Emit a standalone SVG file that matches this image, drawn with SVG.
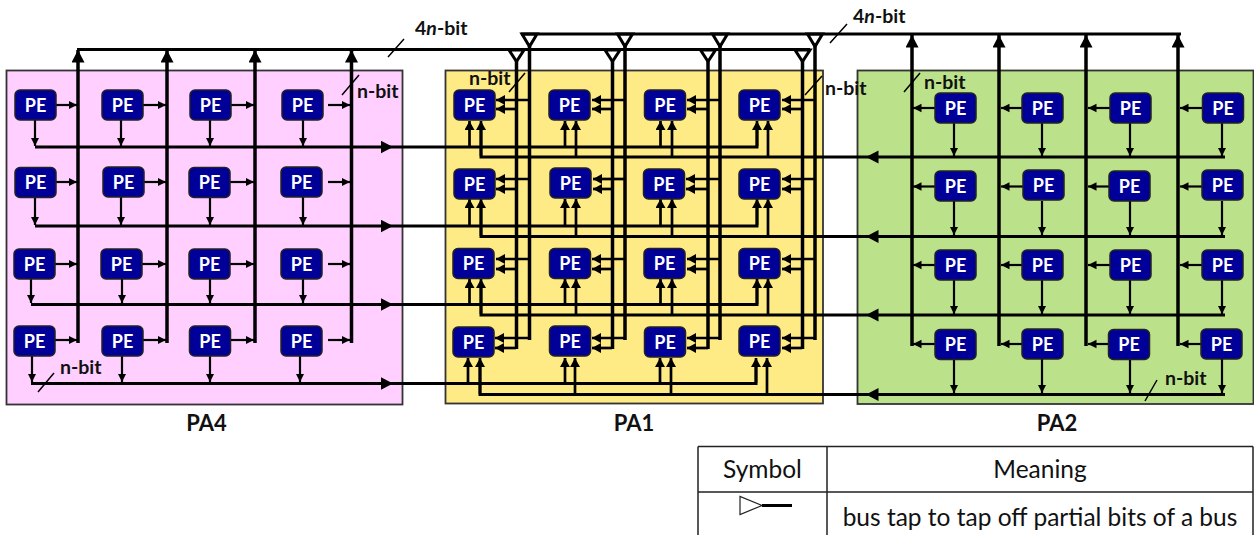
<svg xmlns="http://www.w3.org/2000/svg" width="1254" height="535" viewBox="0 0 1254 535">
<style>
text{font-family:"Lato","Liberation Sans",sans-serif;fill:#111}
.lb{font-weight:700;font-size:19.5px}
.pa{font-weight:700;font-size:22px;text-anchor:middle}
.pet{font-weight:700;font-size:18px;fill:#fff;text-anchor:middle}
.pe{fill:#000099;stroke:#222;stroke-width:1.5;width:41px;height:30px;rx:5px;ry:5px}
.panel{stroke:#333;stroke-width:1.8}
.t{stroke:#000;stroke-width:2.2;fill:none;marker-end:url(#sa)}
.u{stroke:#000;stroke-width:2.7;fill:none;marker-end:url(#ua)}
.b{stroke:#000;stroke-width:3;fill:none}
.v{stroke:#000;stroke-width:3.5;fill:none}
.ba{marker-end:url(#ba)}
.slash{stroke:#000;stroke-width:1.5;fill:none}
.tap{stroke:#000;stroke-width:3;fill:none}
.tbl{stroke:#222;stroke-width:1.5;fill:none}
.tt{font-size:24.5px;text-anchor:middle}
</style>
<defs>
<marker id="sa" markerUnits="userSpaceOnUse" markerWidth="10" markerHeight="10" refX="8.500" refY="4.500" orient="auto"><path d="M0 0.250L8.500 4.500L0 8.750z" fill="#000"/></marker>
<marker id="ua" markerUnits="userSpaceOnUse" markerWidth="11" markerHeight="11" refX="9" refY="5" orient="auto"><path d="M0 0L9 5L0 10z" fill="#000"/></marker>
<marker id="ba" markerUnits="userSpaceOnUse" markerWidth="14" markerHeight="14" refX="12.500" refY="6.500" orient="auto"><path d="M0 0L12.500 6.500L0 13z" fill="#000"/></marker>
</defs>
<g id="panels">
<rect id="pa4-panel" class="panel" x="6.500" y="70.500" width="396" height="334" fill="#FFD0FF"/>
<rect id="pa1-panel" class="panel" x="445.500" y="70.500" width="377.500" height="333" fill="#FFEB85"/>
<rect id="pa2-panel" class="panel" x="857.500" y="70.500" width="396" height="333.500" fill="#BBE28A"/>
</g>
<g id="connectors">
<path class="b" d="M77 49.500H810"/>
<path class="b" d="M521 34H1181"/>
<path class="v ba" d="M78 343V50"/><path class="v ba" d="M167 343V50"/><path class="v ba" d="M255 343V50"/><path class="v ba" d="M351.500 343V50"/>
<path class="v ba" d="M912 346V35"/><path class="v ba" d="M999 346V35"/><path class="v ba" d="M1086 346V35"/><path class="v ba" d="M1178 346V35"/>
<path class="tap" d="M509 50H524L516.500 61.500zM605 50H620L612.500 61.500zM700.500 50H715.500L708 61.500zM795 50H810L802.500 61.500z"/>
<path class="tap" d="M522 34H537L529.500 46.500zM617.500 34H632.500L625 46.500zM712.500 34H727.500L720 46.500zM807.500 34H822.500L815 46.500z"/>
<path class="v" d="M516.500 61V349M612.500 61V349M708 61V349M802.500 61V349"/>
<path class="v" d="M529.500 46V340M625 46V340M720 46V340M815 46V340"/>
<path class="b ba" d="M35 147H393"/><path class="b ba" d="M35 226H393"/><path class="b ba" d="M31 304.500H393"/><path class="b ba" d="M31 383.500H393"/>
<path class="b" d="M393 147H757V128"/><path class="b" d="M393 226H757V206"/><path class="b" d="M393 304.500H757V286"/><path class="b" d="M393 383.500H756V364"/>
<path class="b ba" d="M1225 157H866"/><path class="b ba" d="M1225 236.500H866"/><path class="b ba" d="M1225 315H866"/><path class="b ba" d="M1225 394.500H866"/>
<path class="b" d="M866 157H481V128"/><path class="b" d="M866 236.500H481V206"/><path class="b" d="M866 315H481V286"/><path class="b" d="M866 394.500H480V364"/>
<path class="t" d="M56 105H77"/><path class="t" d="M142 105H166"/><path class="t" d="M231 105H254"/><path class="t" d="M328 105H350"/>
<path class="t" d="M56 182H77"/><path class="t" d="M143 182H166"/><path class="t" d="M230 182H254"/><path class="t" d="M328 182H350"/>
<path class="t" d="M55 264H77"/><path class="t" d="M142 264H166"/><path class="t" d="M230 264H254"/><path class="t" d="M328 264H350"/>
<path class="t" d="M55 340H77"/><path class="t" d="M143 340H166"/><path class="t" d="M231 340H254"/><path class="t" d="M328 340H350"/>
<path class="t" d="M35 120V146"/><path class="t" d="M121 120V146"/><path class="t" d="M210 120V146"/><path class="t" d="M303 120V146"/>
<path class="t" d="M35 197V225"/><path class="t" d="M121 197V225"/><path class="t" d="M210 197V225"/><path class="t" d="M303 197V225"/>
<path class="t" d="M31 279V303"/><path class="t" d="M122 279V303"/><path class="t" d="M210 279V303"/><path class="t" d="M303 279V303"/>
<path class="t" d="M32 356V382"/><path class="t" d="M122 356V382"/><path class="t" d="M210 356V382"/><path class="t" d="M300 356V382"/>
<path class="t" d="M935 108H913"/><path class="t" d="M1022 108H1001"/><path class="t" d="M1110 108H1088"/><path class="t" d="M1202 108H1180"/>
<path class="t" d="M935 186.500H913"/><path class="t" d="M1023 186.500H1001"/><path class="t" d="M1109 186.500H1088"/><path class="t" d="M1202 186.500H1180"/>
<path class="t" d="M935 265H913"/><path class="t" d="M1022 265H1001"/><path class="t" d="M1110 265H1088"/><path class="t" d="M1202 265H1180"/>
<path class="t" d="M935 344H913"/><path class="t" d="M1022 344H1001"/><path class="t" d="M1108 344H1088"/><path class="t" d="M1201 344H1180"/>
<path class="t" d="M954 123V156"/><path class="t" d="M1042 123V156"/><path class="t" d="M1130 123V156"/><path class="t" d="M1222 123V156"/>
<path class="t" d="M954 201V235"/><path class="t" d="M1042 201V235"/><path class="t" d="M1130 201V235"/><path class="t" d="M1222 201V235"/>
<path class="t" d="M954 280V314"/><path class="t" d="M1042 280V314"/><path class="t" d="M1130 280V314"/><path class="t" d="M1222 280V314"/>
<path class="t" d="M954 359V393"/><path class="t" d="M1042 359V393"/><path class="t" d="M1130 359V393"/><path class="t" d="M1222 359V393"/>
<path class="u" d="M529 100H496"/><path class="u" d="M516 109H496"/><path class="u" d="M625 100H592"/><path class="u" d="M612 109H592"/><path class="u" d="M720 100H687"/><path class="u" d="M708 109H687"/><path class="u" d="M815 100H782"/><path class="u" d="M802 109H782"/>
<path class="u" d="M529 179H496"/><path class="u" d="M516 189H496"/><path class="u" d="M625 179H593"/><path class="u" d="M612 189H593"/><path class="u" d="M720 179H686"/><path class="u" d="M708 189H686"/><path class="u" d="M815 179H782"/><path class="u" d="M802 189H782"/>
<path class="u" d="M529 259H496"/><path class="u" d="M516 269H496"/><path class="u" d="M625 259H592"/><path class="u" d="M612 269H592"/><path class="u" d="M720 259H687"/><path class="u" d="M708 269H687"/><path class="u" d="M815 259H782"/><path class="u" d="M802 269H782"/>
<path class="u" d="M529 338H495"/><path class="u" d="M516 348H495"/><path class="u" d="M625 338H592"/><path class="u" d="M612 348H592"/><path class="u" d="M720 338H687"/><path class="u" d="M708 348H687"/><path class="u" d="M815 338H782"/><path class="u" d="M802 348H782"/>
<path class="u" d="M469.500 146V121"/><path class="u" d="M481 156V121"/><path class="u" d="M565 146V121"/><path class="u" d="M576 156V121"/><path class="u" d="M660.500 146V121"/><path class="u" d="M672 156V121"/><path class="u" d="M757 146V121"/><path class="u" d="M768 156V121"/>
<path class="u" d="M469.500 225V199"/><path class="u" d="M481 236V199"/><path class="u" d="M565 225V199"/><path class="u" d="M576 236V199"/><path class="u" d="M660.500 225V199"/><path class="u" d="M672 236V199"/><path class="u" d="M757 225V199"/><path class="u" d="M768 236V199"/>
<path class="u" d="M469.500 304V279"/><path class="u" d="M481 314V279"/><path class="u" d="M565 304V279"/><path class="u" d="M576 314V279"/><path class="u" d="M660.500 304V279"/><path class="u" d="M672 314V279"/><path class="u" d="M757 304V279"/><path class="u" d="M768 314V279"/>
<path class="u" d="M468 383V358"/><path class="u" d="M480 394V358"/><path class="u" d="M565 383V358"/><path class="u" d="M575 394V358"/><path class="u" d="M660 383V358"/><path class="u" d="M671 394V358"/><path class="u" d="M756 383V358"/><path class="u" d="M767 394V358"/>
<path class="slash" d="M388 57L404 39M830 43L847 24M342 95L359 75M509 92L525 73M805 95L822 76M904 92L920 73M38 392L54 373M1145 401L1157 380"/>
</g>
<g id="pa4-nodes">
<g id="pa4-1-1"><rect class="pe" x="15" y="90"/><text class="pet" x="35.500" y="111.500">PE</text></g>
<g id="pa4-1-2"><rect class="pe" x="102" y="90"/><text class="pet" x="122.500" y="111.500">PE</text></g>
<g id="pa4-1-3"><rect class="pe" x="190" y="90"/><text class="pet" x="210.500" y="111.500">PE</text></g>
<g id="pa4-1-4"><rect class="pe" x="282" y="90"/><text class="pet" x="302.500" y="111.500">PE</text></g>
<g id="pa4-2-1"><rect class="pe" x="15" y="167.500"/><text class="pet" x="35.500" y="189">PE</text></g>
<g id="pa4-2-2"><rect class="pe" x="103" y="167"/><text class="pet" x="123.500" y="188.500">PE</text></g>
<g id="pa4-2-3"><rect class="pe" x="189" y="167.500"/><text class="pet" x="209.500" y="189">PE</text></g>
<g id="pa4-2-4"><rect class="pe" x="281" y="167"/><text class="pet" x="301.500" y="188.500">PE</text></g>
<g id="pa4-3-1"><rect class="pe" x="14" y="249"/><text class="pet" x="34.500" y="270.500">PE</text></g>
<g id="pa4-3-2"><rect class="pe" x="101" y="249"/><text class="pet" x="121.500" y="270.500">PE</text></g>
<g id="pa4-3-3"><rect class="pe" x="189" y="249"/><text class="pet" x="209.500" y="270.500">PE</text></g>
<g id="pa4-3-4"><rect class="pe" x="281" y="249"/><text class="pet" x="301.500" y="270.500">PE</text></g>
<g id="pa4-4-1"><rect class="pe" x="14" y="326"/><text class="pet" x="34.500" y="347.500">PE</text></g>
<g id="pa4-4-2"><rect class="pe" x="102" y="326"/><text class="pet" x="122.500" y="347.500">PE</text></g>
<g id="pa4-4-3"><rect class="pe" x="189.500" y="326"/><text class="pet" x="210" y="347.500">PE</text></g>
<g id="pa4-4-4"><rect class="pe" x="281" y="326"/><text class="pet" x="301.500" y="347.500">PE</text></g>
</g>
<g id="pa1-nodes">
<g id="pa1-1-1"><rect class="pe" x="454" y="90"/><text class="pet" x="474.500" y="111.500">PE</text></g>
<g id="pa1-1-2"><rect class="pe" x="549" y="90"/><text class="pet" x="569.500" y="111.500">PE</text></g>
<g id="pa1-1-3"><rect class="pe" x="644.500" y="90"/><text class="pet" x="665" y="111.500">PE</text></g>
<g id="pa1-1-4"><rect class="pe" x="739" y="90"/><text class="pet" x="759.500" y="111.500">PE</text></g>
<g id="pa1-2-1"><rect class="pe" x="454" y="169"/><text class="pet" x="474.500" y="190.500">PE</text></g>
<g id="pa1-2-2"><rect class="pe" x="550" y="168"/><text class="pet" x="570.500" y="189.500">PE</text></g>
<g id="pa1-2-3"><rect class="pe" x="643.500" y="169"/><text class="pet" x="664" y="190.500">PE</text></g>
<g id="pa1-2-4"><rect class="pe" x="739" y="169"/><text class="pet" x="759.500" y="190.500">PE</text></g>
<g id="pa1-3-1"><rect class="pe" x="453" y="248.500"/><text class="pet" x="473.500" y="270">PE</text></g>
<g id="pa1-3-2"><rect class="pe" x="549.500" y="248.500"/><text class="pet" x="570" y="270">PE</text></g>
<g id="pa1-3-3"><rect class="pe" x="644" y="248.500"/><text class="pet" x="664.500" y="270">PE</text></g>
<g id="pa1-3-4"><rect class="pe" x="739" y="248.500"/><text class="pet" x="759.500" y="270">PE</text></g>
<g id="pa1-4-1"><rect class="pe" x="453" y="327"/><text class="pet" x="473.500" y="348.500">PE</text></g>
<g id="pa1-4-2"><rect class="pe" x="549.500" y="326"/><text class="pet" x="570" y="347.500">PE</text></g>
<g id="pa1-4-3"><rect class="pe" x="644.500" y="327"/><text class="pet" x="665" y="348.500">PE</text></g>
<g id="pa1-4-4"><rect class="pe" x="739" y="326"/><text class="pet" x="759.500" y="347.500">PE</text></g>
</g>
<g id="pa2-nodes">
<g id="pa2-1-1"><rect class="pe" x="935" y="93"/><text class="pet" x="955.500" y="114.500">PE</text></g>
<g id="pa2-1-2"><rect class="pe" x="1022" y="93"/><text class="pet" x="1042.500" y="114.500">PE</text></g>
<g id="pa2-1-3"><rect class="pe" x="1110" y="93"/><text class="pet" x="1130.500" y="114.500">PE</text></g>
<g id="pa2-1-4"><rect class="pe" x="1202.500" y="93"/><text class="pet" x="1223" y="114.500">PE</text></g>
<g id="pa2-2-1"><rect class="pe" x="935" y="171"/><text class="pet" x="955.500" y="192.500">PE</text></g>
<g id="pa2-2-2"><rect class="pe" x="1023" y="170"/><text class="pet" x="1043.500" y="191.500">PE</text></g>
<g id="pa2-2-3"><rect class="pe" x="1109" y="171"/><text class="pet" x="1129.500" y="192.500">PE</text></g>
<g id="pa2-2-4"><rect class="pe" x="1202" y="170"/><text class="pet" x="1222.500" y="191.500">PE</text></g>
<g id="pa2-3-1"><rect class="pe" x="935" y="250"/><text class="pet" x="955.500" y="271.500">PE</text></g>
<g id="pa2-3-2"><rect class="pe" x="1022" y="250"/><text class="pet" x="1042.500" y="271.500">PE</text></g>
<g id="pa2-3-3"><rect class="pe" x="1110" y="250"/><text class="pet" x="1130.500" y="271.500">PE</text></g>
<g id="pa2-3-4"><rect class="pe" x="1202" y="250"/><text class="pet" x="1222.500" y="271.500">PE</text></g>
<g id="pa2-4-1"><rect class="pe" x="935" y="329.500"/><text class="pet" x="955.500" y="351">PE</text></g>
<g id="pa2-4-2"><rect class="pe" x="1022" y="329"/><text class="pet" x="1042.500" y="350.500">PE</text></g>
<g id="pa2-4-3"><rect class="pe" x="1108.500" y="329.500"/><text class="pet" x="1129" y="351">PE</text></g>
<g id="pa2-4-4"><rect class="pe" x="1201" y="329"/><text class="pet" x="1221.500" y="350.500">PE</text></g>
</g>
<g id="labels">
<text class="lb" x="415" y="35">4<tspan font-style="italic">n</tspan>-bit</text>
<text class="lb" x="853" y="23">4<tspan font-style="italic">n</tspan>-bit</text>
<text class="lb" x="357" y="98">n-bit</text>
<text class="lb" x="469" y="85">n-bit</text>
<text class="lb" x="825" y="95">n-bit</text>
<text class="lb" x="924" y="89">n-bit</text>
<text class="lb" x="60" y="374">n-bit</text>
<text class="lb" x="1165" y="385">n-bit</text>
<text class="pa" x="206.500" y="431">PA4</text>
<text class="pa" x="634" y="431">PA1</text>
<text class="pa" x="1057" y="431">PA2</text>
</g>
<g id="legend">
<path class="tbl" d="M698 446.500H1253M698 492H1253M698 446.500V535M827 446.500V535M1253 446.500V535"/>
<text class="tt" x="762.500" y="478">Symbol</text>
<text class="tt" x="1040" y="478">Meaning</text>
<path d="M740 496.500V514.500L762 505.500z" fill="none" stroke="#222" stroke-width="1.200"/>
<path d="M762 505.500H792" stroke="#000" stroke-width="3"/>
<text class="tt" x="1040" y="526">bus tap to tap off partial bits of a bus</text>
</g>
</svg>
